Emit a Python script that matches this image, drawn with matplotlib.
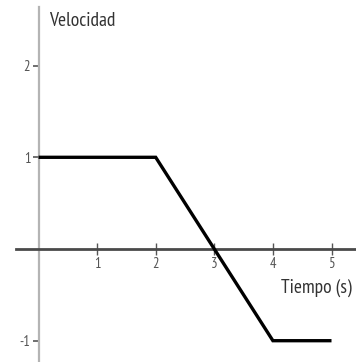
import matplotlib
matplotlib.use("Agg")
import matplotlib.pyplot as plt

# Velocity vs time: piecewise linear profile
tiempo = [0, 2, 3, 4, 5]
velocidad = [1, 1, 0, -1, -1]
x_ticks = [1, 2, 3, 4, 5]
y_ticks = [-1, 1, 2]

plt.rcParams["font.family"] = ["PT Sans Narrow", "DejaVu Sans"]

W, H = 356, 362
fig = plt.figure(figsize=(W / 100, H / 100), dpi=100)
ax = fig.add_axes([0, 0, 1, 1])

# pixel layout: origin at (38.5, 249), 58.6 px per second, 91.7 px per unit speed
x0, y0, sx, sy = 38.5, 249.0, 58.6, 91.7
ax.set_xlim(-x0 / sx, (W - x0) / sx)
ax.set_ylim(-(H - y0) / sy, y0 / sy)

ax.plot(tiempo, velocidad, color="black", lw=2.4, solid_joinstyle="miter",
        solid_capstyle="butt", zorder=3)

for s in ("top", "right"):
    ax.spines[s].set_visible(False)
ax.spines["left"].set_position(("data", 0))
ax.spines["bottom"].set_position(("data", 0))
ax.spines["left"].set_color("#b4b4b4")
ax.spines["left"].set_linewidth(1.6)
ax.spines["bottom"].set_color("#4a4a4a")
ax.spines["bottom"].set_linewidth(2.0)
ax.spines["left"].set_bounds(-(H - y0) / sy, (y0 - 7) / sy)
ax.spines["bottom"].set_bounds((16 - x0) / sx, (W - x0) / sx)

ax.set_xticks(x_ticks)
ax.set_xticklabels([str(t) for t in x_ticks])
ax.set_yticks(y_ticks)
ax.set_yticklabels([str(t) for t in y_ticks])
ax.tick_params(axis="x", direction="inout", length=9, width=1.0, color="#555555",
               labelsize=10.5, labelcolor="#555555", pad=1)
ax.tick_params(axis="y", direction="out", length=4.5, width=1.2, color="#555555",
               labelsize=10.5, labelcolor="#555555", pad=1.5)

ax.text((49 - x0) / sx, (y0 - 26) / sy, "Velocidad", fontsize=14,
        color="#333333", ha="left", va="baseline")
ax.text((352 - x0) / sx, (y0 - 293) / sy, "Tiempo (s)", fontsize=14,
        color="#333333", ha="right", va="baseline")

ax.patch.set_alpha(0)
fig.savefig("out.png", dpi=100)
